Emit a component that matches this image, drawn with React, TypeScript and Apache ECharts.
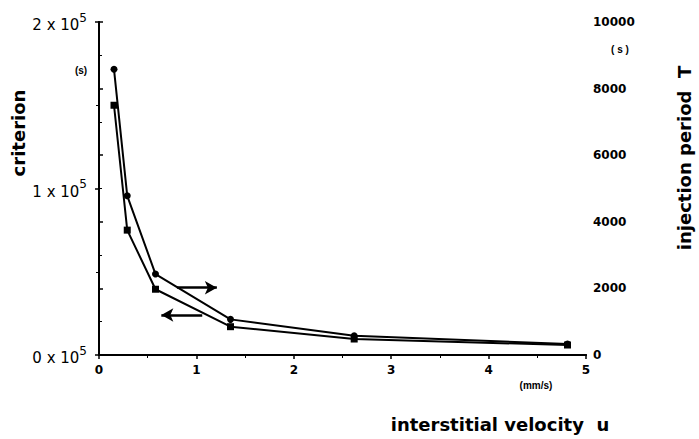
import React, { useEffect, useRef } from "react";
import * as echarts from "echarts";

const velocity = [0.154, 0.29, 0.58, 1.35, 2.62, 4.81];
const criterion = [150000, 75000, 39500, 17000, 9600, 6000];
const injectionPeriod = [8580, 4780, 2430, 1070, 580, 330];
const xTicks = [0, 1, 2, 3, 4, 5];
const leftTicks = [0, 100000, 200000];
const rightTicks = [0, 2000, 4000, 6000, 8000, 10000];

const FONT = "Liberation Sans";
const TITLE_FONT = "DejaVu Sans";

export default function App() {
  const ref = useRef<HTMLDivElement>(null);
  useEffect(() => {
    const chart = echarts.init(ref.current!, null, { renderer: "svg" });
    const axisCommon = {
      axisLine: { show: true, lineStyle: { color: "#000", width: 2 } },
      axisTick: { show: true, inside: false, length: 4, lineStyle: { color: "#000", width: 1.5 } },
      minorTick: { show: true, splitNumber: 2, length: 3, lineStyle: { color: "#000", width: 1 } },
      splitLine: { show: false },
    };
    const titleStyle = {
      font: `bold 18px "${TITLE_FONT}"`,
      fill: "#000",
      align: "center",
      verticalAlign: "middle",
    };
    chart.setOption({
      animation: false,
      backgroundColor: "#fff",
      grid: { left: 99, right: 113, top: 22, bottom: 84, containLabel: false, outerBoundsMode: "none" },
      xAxis: [
        {
          type: "value",
          min: 0,
          max: 5,
          interval: 1,
          ...axisCommon,
          axisLabel: {
            color: "#000",
            fontFamily: TITLE_FONT,
            fontWeight: "bold",
            fontSize: 12,
            margin: 9,
            formatter: (v: number) => (xTicks.includes(v) ? String(v) : ""),
          },
        },
        {
          type: "value",
          position: "top",
          min: 0,
          max: 5,
          axisLine: { show: true, lineStyle: { color: "#000", width: 2 } },
          axisTick: { show: false },
          axisLabel: { show: false },
          splitLine: { show: false },
        },
      ],
      yAxis: [
        {
          type: "value",
          min: 0,
          max: 200000,
          interval: 100000,
          ...axisCommon,
          axisLabel: {
            color: "#000",
            fontFamily: TITLE_FONT,
            margin: 12,
            formatter: (v: number) =>
              leftTicks.includes(v) ? `{a|${v / 100000} x 10}{b|5}` : "",
            rich: {
              a: { fontFamily: TITLE_FONT, fontSize: 15, color: "#000", verticalAlign: "bottom" },
              b: { fontFamily: TITLE_FONT, fontSize: 12, color: "#000", verticalAlign: "top", padding: [0, 0, 9, 0] },
            },
          },
        },
        {
          type: "value",
          min: 0,
          max: 10000,
          interval: 2000,
          position: "right",
          ...axisCommon,
          axisLabel: {
            color: "#000",
            fontFamily: TITLE_FONT,
            fontWeight: "bold",
            fontSize: 12,
            margin: 7,
            formatter: (v: number) => (rightTicks.includes(v) ? String(v) : ""),
          },
        },
      ],
      series: [
        {
          name: "criterion",
          type: "line",
          xAxisIndex: 0,
          yAxisIndex: 0,
          data: velocity.map((x, i) => [x, criterion[i]]),
          symbol: "rect",
          symbolSize: 7,
          itemStyle: { color: "#000" },
          lineStyle: { color: "#000", width: 2 },
          markLine: {
            silent: true,
            symbol: ["none", "arrow"],
            symbolSize: [10, 12],
            label: { show: false },
            lineStyle: { color: "#000", width: 2.5, type: "solid" },
            data: [[{ coord: [1.06, 24000] }, { coord: [0.64, 24000] }]],
          },
        },
        {
          name: "injection period",
          type: "line",
          xAxisIndex: 0,
          yAxisIndex: 1,
          data: velocity.map((x, i) => [x, injectionPeriod[i]]),
          symbol: "circle",
          symbolSize: 7,
          itemStyle: { color: "#000" },
          lineStyle: { color: "#000", width: 2 },
          markLine: {
            silent: true,
            symbol: ["none", "arrow"],
            symbolSize: [10, 12],
            label: { show: false },
            lineStyle: { color: "#000", width: 2.5, type: "solid" },
            data: [[{ coord: [0.8, 2020] }, { coord: [1.21, 2020] }]],
          },
        },
      ],
      graphic: [
        {
          id: "title-left-group",
          type: "group",
          x: 18,
          y: 133,
          rotation: Math.PI / 2,
          children: [
            { id: "title-left", type: "text", x: 0, y: 0, style: { text: "criterion", ...titleStyle } },
          ],
        },
        {
          id: "title-right-group",
          type: "group",
          x: 684,
          y: 158,
          rotation: Math.PI / 2,
          children: [
            { id: "title-right", type: "text", x: 0, y: 0, style: { text: "injection period  T", ...titleStyle } },
          ],
        },
        {
          id: "title-bottom",
          type: "text",
          x: 500,
          y: 424,
          style: { text: "interstitial velocity  u", ...titleStyle },
        },
        {
          id: "unit-x",
          type: "text",
          x: 536,
          y: 385,
          style: { text: "(mm/s)", font: `bold 10px "${FONT}"`, fill: "#000", align: "center", verticalAlign: "middle" },
        },
        {
          id: "unit-left",
          type: "text",
          x: 81,
          y: 70,
          style: { text: "(s)", font: `bold 10px "${FONT}"`, fill: "#000", align: "center", verticalAlign: "middle" },
        },
        {
          id: "unit-right",
          type: "text",
          x: 620,
          y: 49,
          style: { text: "( s )", font: `bold 10px "${FONT}"`, fill: "#000", align: "center", verticalAlign: "middle" },
        },
      ],
    });
    return () => chart.dispose();
  }, []);
  return <div ref={ref} style={{ width: 699, height: 439, position: "absolute", left: 0, top: 0 }} />;
}
